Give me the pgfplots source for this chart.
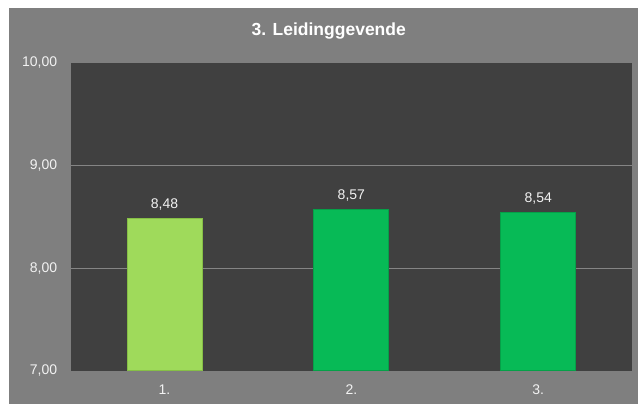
\documentclass[border=0pt]{standalone}
\usepackage{pgfplots}
\pgfplotsset{compat=1.18}
\usepackage{fontspec}
\setmainfont{Liberation Sans}
\definecolor{outerbg}{HTML}{7F7F7F}
\definecolor{plotbg}{HTML}{404040}
\definecolor{gridc}{HTML}{858585}
\definecolor{lgreen}{HTML}{9FDA5B}
\definecolor{lgreenedge}{HTML}{86BF46}
\definecolor{dgreen}{HTML}{07BA56}
\definecolor{dgreenedge}{HTML}{05A048}
\definecolor{txt}{HTML}{F2F2F2}
\begin{document}
\begin{tikzpicture}
\useasboundingbox (0,0) rectangle (638bp,404bp);
\fill[white] (0,0) rectangle (638bp,404bp);
\fill[outerbg] (9bp,0) rectangle (638bp,396bp);
\node[text=white,font=\fontsize{17.5bp}{20bp}\selectfont\bfseries] at (328.7bp,373bp) {3. Leidinggevende};
\begin{axis}[
  at={(71bp,33.3bp)}, anchor=south west,
  scale only axis, width=560.7bp, height=308bp,
  xmin=0.5, xmax=3.5, ymin=7, ymax=10,
  axis background/.style={fill=plotbg},
  axis line style={draw=none},
  ybar, bar width=75bp,
  xtick={1,2,3}, xticklabels={1.,2.,3.},
  ytick={7,8,9,10},
  extra y ticks={8,9}, extra y tick labels={},
  extra y tick style={grid=major, major grid style={gridc, line width=1bp}},
  major tick length=0pt,
  /pgf/number format/.cd, fixed, fixed zerofill, precision=2, use comma, assume math mode=true,
  /pgfplots/.cd,
  tick label style={text=txt, font=\fontsize{14bp}{16bp}\selectfont},
  yticklabel style={anchor=east, inner sep=0pt, xshift=-13.7bp},
  xticklabel style={anchor=base, inner sep=0pt, yshift=-23.5bp},
  nodes near coords,
  every node near coord/.append style={text=txt, font=\fontsize{14bp}{16bp}\selectfont, anchor=base, inner sep=0pt, yshift=10bp},
  clip=false,
]
\addplot[bar shift=0pt, fill=lgreen, draw=lgreenedge, line width=0.8bp] coordinates {(1,8.48)};
\addplot[bar shift=0pt, fill=dgreen, draw=dgreenedge, line width=0.8bp] coordinates {(2,8.57) (3,8.54)};
\end{axis}
\end{tikzpicture}
\end{document}
